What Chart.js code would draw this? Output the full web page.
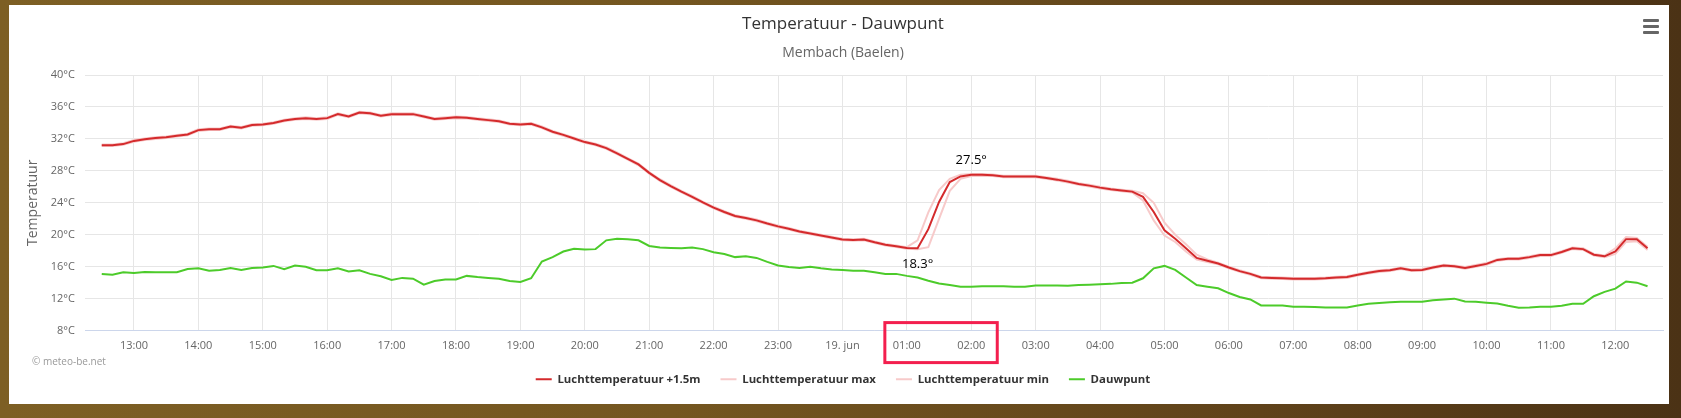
<!DOCTYPE html>
<html lang="nl">
<head>
<meta charset="utf-8">
<title>Temperatuur - Dauwpunt</title>
<script src="https://cdn.jsdelivr.net/npm/chart.js@4.4.1/dist/chart.umd.min.js"></script>
<style>
  html, body { margin: 0; padding: 0; }
  body {
    width: 1681px; height: 418px; overflow: hidden; position: relative;
    background: linear-gradient(90deg, #7d5f24 0%, #745620 40%, #5f421a 75%, #4b3215 100%);
    font-family: "Open Sans", sans-serif;
  }
  #panel { position: absolute; left: 9px; top: 5px; width: 1660px; height: 399px; background: #fff; }
  #chartTemp { display: block; }
  .menu { position: absolute; right: 10px; top: 14px; width: 16px; }
  .menu span { display: block; height: 3px; background: #666; margin-bottom: 3px; border-radius: 1px; }
</style>
</head>
<body>
<div id="panel">
  <canvas id="chartTemp" width="1660" height="399"></canvas>
  <div class="menu"><span></span><span></span><span></span></div>
</div>
<script>
// metingen om de 10 minuten, 18 jun 12:30 -> 19 jun 12:30
const startUur = 12.5;
const stapMinuten = 10;

const temp = [
  31.2, 31.2, 31.35, 31.75, 31.95, 32.1, 32.2, 32.4, 32.55, 33.1,
  33.2, 33.2, 33.55, 33.4, 33.75, 33.8, 34.0, 34.3, 34.5, 34.6,
  34.5, 34.6, 35.1, 34.8, 35.3, 35.2, 34.9, 35.1, 35.1, 35.1,
  34.8, 34.5, 34.6, 34.7, 34.65, 34.5, 34.35, 34.2, 33.9, 33.8,
  33.9, 33.45, 32.9, 32.5, 32.05, 31.6, 31.3, 30.85, 30.2, 29.5,
  28.8, 27.75, 26.85, 26.1, 25.4, 24.75, 24.05, 23.4, 22.85, 22.35,
  22.1, 21.8, 21.4, 21.05, 20.75, 20.4, 20.15, 19.9, 19.65, 19.4,
  19.35, 19.4, 19.05, 18.75, 18.55, 18.35, 18.3, 20.7, 24.1, 26.6,
  27.3, 27.5, 27.5, 27.45, 27.3, 27.3, 27.3, 27.3, 27.1, 26.9,
  26.65, 26.35, 26.15, 25.9, 25.7, 25.55, 25.4, 24.75, 22.85, 20.55,
  19.5, 18.3, 17.1, 16.75, 16.4, 15.9, 15.45, 15.1, 14.65, 14.6,
  14.55, 14.5, 14.5, 14.5, 14.55, 14.65, 14.7, 15.0, 15.25, 15.45,
  15.55, 15.8, 15.55, 15.6, 15.9, 16.15, 16.05, 15.85, 16.1, 16.35,
  16.85, 17.0, 17.0, 17.2, 17.45, 17.45, 17.85, 18.3, 18.2, 17.5,
  17.3, 17.9, 19.45, 19.45, 18.3
];

const tempMax = [
  31.3, 31.3, 31.45, 31.85, 32.05, 32.2, 32.3, 32.5, 32.65, 33.2,
  33.3, 33.3, 33.65, 33.5, 33.85, 33.9, 34.1, 34.4, 34.6, 34.7,
  34.6, 34.7, 35.2, 34.9, 35.4, 35.3, 35.0, 35.2, 35.2, 35.2,
  34.9, 34.6, 34.7, 34.8, 34.75, 34.6, 34.45, 34.3, 34.0, 33.9,
  34.0, 33.55, 33.0, 32.6, 32.15, 31.7, 31.4, 30.95, 30.3, 29.6,
  28.9, 27.85, 26.95, 26.2, 25.5, 24.85, 24.15, 23.5, 22.95, 22.45,
  22.2, 21.9, 21.5, 21.15, 20.85, 20.5, 20.25, 20.0, 19.75, 19.5,
  19.45, 19.5, 19.15, 18.85, 18.65, 18.45, 19.3, 22.8, 25.6, 27.0,
  27.5, 27.6, 27.6, 27.55, 27.4, 27.4, 27.4, 27.4, 27.2, 27.0,
  26.75, 26.45, 26.25, 26.0, 25.8, 25.65, 25.5, 25.2, 24.0, 21.5,
  20.0, 18.8, 17.5, 16.9, 16.5, 16.0, 15.55, 15.2, 14.75, 14.7,
  14.65, 14.6, 14.6, 14.6, 14.65, 14.75, 14.8, 15.1, 15.35, 15.55,
  15.65, 15.9, 15.65, 15.7, 16.0, 16.25, 16.15, 15.95, 16.2, 16.45,
  16.95, 17.1, 17.1, 17.3, 17.55, 17.55, 17.95, 18.4, 18.3, 17.6,
  17.4, 18.3, 19.7, 19.6, 18.5
];

const tempMin = [
  31.1, 31.1, 31.25, 31.65, 31.85, 32.0, 32.1, 32.3, 32.45, 33.0,
  33.1, 33.1, 33.45, 33.3, 33.65, 33.7, 33.9, 34.2, 34.4, 34.5,
  34.4, 34.5, 35.0, 34.7, 35.2, 35.1, 34.8, 35.0, 35.0, 35.0,
  34.7, 34.4, 34.5, 34.6, 34.55, 34.4, 34.25, 34.1, 33.8, 33.7,
  33.8, 33.35, 32.8, 32.4, 31.95, 31.5, 31.2, 30.75, 30.1, 29.4,
  28.7, 27.65, 26.75, 26.0, 25.3, 24.65, 23.95, 23.3, 22.75, 22.25,
  22.0, 21.7, 21.3, 20.95, 20.65, 20.3, 20.05, 19.8, 19.55, 19.3,
  19.25, 19.3, 18.95, 18.65, 18.45, 18.25, 18.2, 18.45, 22.0, 25.5,
  27.0, 27.35, 27.4, 27.35, 27.2, 27.2, 27.2, 27.2, 27.0, 26.8,
  26.55, 26.25, 26.05, 25.8, 25.6, 25.45, 25.3, 24.3, 21.8, 19.9,
  19.1, 17.9, 16.9, 16.6, 16.3, 15.8, 15.35, 15.0, 14.55, 14.5,
  14.45, 14.4, 14.4, 14.4, 14.45, 14.55, 14.6, 14.9, 15.15, 15.35,
  15.45, 15.7, 15.45, 15.5, 15.8, 16.05, 15.95, 15.75, 16.0, 16.25,
  16.75, 16.9, 16.9, 17.1, 17.35, 17.35, 17.75, 18.2, 18.1, 17.4,
  17.2, 17.6, 19.1, 19.2, 18.1
];

const dauwpunt = [
  15.1, 15.0, 15.3, 15.2, 15.35, 15.3, 15.3, 15.3, 15.7, 15.8,
  15.5, 15.6, 15.85, 15.6, 15.85, 15.9, 16.1, 15.7, 16.15, 16.0,
  15.55, 15.55, 15.8, 15.4, 15.55, 15.1, 14.8, 14.35, 14.6, 14.5,
  13.75, 14.2, 14.4, 14.4, 14.85, 14.7, 14.6, 14.5, 14.2, 14.1,
  14.55, 16.65, 17.2, 17.9, 18.25, 18.15, 18.2, 19.3, 19.5, 19.45,
  19.3, 18.6, 18.4, 18.35, 18.3, 18.4, 18.2, 17.8, 17.6, 17.2,
  17.3, 17.1, 16.6, 16.15, 15.95, 15.85, 16.0, 15.8, 15.65, 15.6,
  15.5, 15.5, 15.3, 15.1, 15.1, 14.85, 14.65, 14.25, 13.9, 13.7,
  13.5, 13.5, 13.55, 13.55, 13.55, 13.5, 13.5, 13.65, 13.65, 13.65,
  13.6, 13.7, 13.75, 13.8, 13.85, 13.95, 14.0, 14.55, 15.8, 16.1,
  15.6, 14.65, 13.7, 13.5, 13.3, 12.7, 12.2, 11.9, 11.15, 11.15,
  11.15, 11.0, 11.0, 10.95, 10.9, 10.9, 10.9, 11.15, 11.35, 11.45,
  11.55, 11.6, 11.6, 11.6, 11.8, 11.9, 12.0, 11.65, 11.6, 11.5,
  11.4, 11.1, 10.85, 10.9, 11.0, 11.0, 11.1, 11.35, 11.35, 12.3,
  12.85, 13.25, 14.15, 14.0, 13.55
];

// as-labels per uur (13 = 18 jun 13:00 ... 36 = 19 jun 12:00)
const uurLabels = [
  '13:00', '14:00', '15:00', '16:00', '17:00', '18:00', '19:00', '20:00',
  '21:00', '22:00', '23:00', '19. jun', '01:00', '02:00', '03:00', '04:00',
  '05:00', '06:00', '07:00', '08:00', '09:00', '10:00', '11:00', '12:00'
];
const eersteUur = 13;

// nachtperiode waarin min/max gelabeld worden (uren)
const nachtVan = 24;
const nachtTot = 28;

const xWaarden = temp.map((_, i) => startUur + i * stapMinuten / 60);
const punten = (reeks) => reeks.map((v, i) => ({ x: xWaarden[i], y: v }));

// labels min/max + credits + kader rond 01:00-02:00
const extrasPlugin = {
  id: 'extras',
  afterDatasetsDraw(chart) {
    const ctx = chart.ctx;
    const meta = chart.getDatasetMeta(0);
    let iMin = -1, iMax = -1;
    xWaarden.forEach((x, i) => {
      if (x < nachtVan || x > nachtTot) return;
      if (iMin < 0 || temp[i] < temp[iMin]) iMin = i;
      if (iMax < 0 || temp[i] > temp[iMax]) iMax = i;
    });
    ctx.save();
    ctx.font = '13px "Open Sans"';
    ctx.fillStyle = '#000';
    ctx.textAlign = 'center';
    ctx.textBaseline = 'middle';
    const pMax = meta.data[iMax];
    ctx.fillText(temp[iMax].toFixed(1) + '°', pMax.x, pMax.y - 15);
    const pMin = meta.data[iMin];
    ctx.fillText(temp[iMin].toFixed(1) + '°', pMin.x, pMin.y + 16);
    ctx.restore();
  },
  afterDraw(chart) {
    const ctx = chart.ctx;
    const xs = chart.scales.x;
    const area = chart.chartArea;
    ctx.save();
    ctx.font = '10px "Open Sans"';
    ctx.fillStyle = '#999';
    ctx.textBaseline = 'middle';
    ctx.fillText('© meteo-be.net', 23, area.bottom + 32);

    const x1 = xs.getPixelForValue(25) - 22;
    const x2 = xs.getPixelForValue(26) + 26;
    ctx.strokeStyle = '#f31f4e';
    ctx.lineWidth = 3;
    ctx.strokeRect(x1, area.bottom - 8, x2 - x1, 40);
    ctx.restore();
  }
};

const ctx = document.getElementById('chartTemp').getContext('2d');
new Chart(ctx, {
  type: 'line',
  data: {
    datasets: [
      {
        label: 'Luchttemperatuur +1.5m',
        data: punten(temp),
        borderColor: '#d42a2c',
        backgroundColor: '#d42a2c',
        borderWidth: 2,
        order: 1
      },
      {
        label: 'Luchttemperatuur max',
        data: punten(tempMax),
        borderColor: '#f7caca',
        backgroundColor: '#f7caca',
        borderWidth: 2,
        order: 3
      },
      {
        label: 'Luchttemperatuur min',
        data: punten(tempMin),
        borderColor: '#f7caca',
        backgroundColor: '#f7caca',
        borderWidth: 2,
        order: 3
      },
      {
        label: 'Dauwpunt',
        data: punten(dauwpunt),
        borderColor: '#4ccb2a',
        backgroundColor: '#4ccb2a',
        borderWidth: 2,
        order: 0
      }
    ]
  },
  options: {
    responsive: false,
    animation: false,
    events: [],
    elements: { point: { radius: 0 }, line: { tension: 0 } },
    layout: { padding: { left: 14, right: 6, top: 0, bottom: 9 } },
    plugins: {
      title: {
        display: true,
        text: 'Temperatuur - Dauwpunt',
        color: '#333',
        font: { family: 'Open Sans', size: 17, weight: 'normal' },
        padding: { top: 9, bottom: 10 }
      },
      subtitle: {
        display: true,
        text: 'Membach (Baelen)',
        color: '#666',
        font: { family: 'Open Sans', size: 14, weight: 'normal' },
        padding: { top: 0, bottom: 13.8 }
      },
      legend: {
        position: 'bottom',
        labels: {
          usePointStyle: true,
          pointStyle: 'line',
          pointStyleWidth: 16,
          padding: 20,
          color: '#333',
          font: { family: 'Open Sans', size: 11.4, weight: 'bold' },
          sort: (a, b) => a.datasetIndex - b.datasetIndex
        }
      },
      tooltip: { enabled: false }
    },
    scales: {
      x: {
        type: 'linear',
        min: 12.24,
        max: 36.74,
        grid: { color: '#e6e6e6', drawTicks: false, tickLength: 0 },
        border: { color: '#ccd6eb' },
        ticks: {
          stepSize: 1,
          includeBounds: false,
          autoSkip: false,
          maxRotation: 0,
          padding: 9,
          color: '#666',
          font: { family: 'Open Sans', size: 11 },
          callback: (v) => uurLabels[v - eersteUur]
        },
        afterFit(scale) { scale.height = 23; }
      },
      y: {
        min: 8,
        max: 40,
        grid: { color: '#e6e6e6', drawTicks: false, tickLength: 0 },
        border: { display: false },
        title: {
          display: true,
          text: 'Temperatuur',
          color: '#666',
          font: { family: 'Open Sans', size: 14 },
          padding: { top: 2, bottom: 0 }
        },
        ticks: {
          stepSize: 4,
          padding: 10,
          color: '#666',
          font: { family: 'Open Sans', size: 11 },
          callback: (v) => v + '°C'
        },
        afterFit(scale) { scale.width = 62; }
      }
    }
  },
  plugins: [extrasPlugin]
});
</script>
</body>
</html>
